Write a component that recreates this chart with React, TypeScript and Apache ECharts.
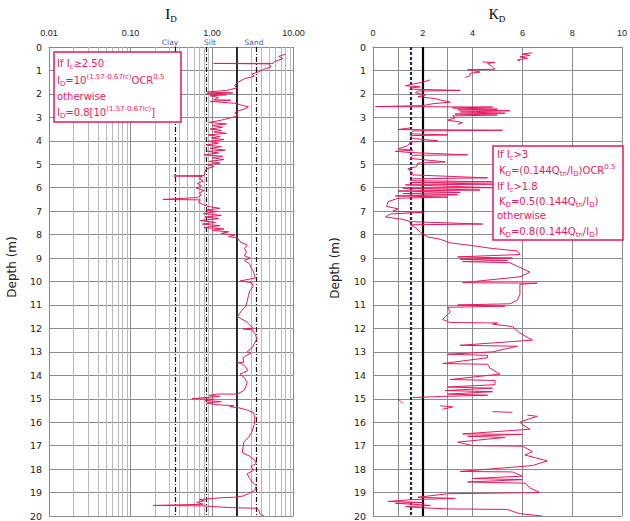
import React, { useEffect, useRef } from "react";
import * as echarts from "echarts";

// ---- Data (depth in m, value) ----
const idProfile: [number, number][] = [
  [0.30,8.0],[0.40,6.6],[0.50,7.4],[0.62,5.8],[0.70,5.6],[0.70,1.05],[0.72,5.0],[0.85,5.3],[0.95,4.3],[1.05,3.8],
  [1.15,3.1],[1.25,3.3],[1.35,2.5],[1.50,2.1],[1.62,1.9],[1.75,2.0],[1.85,1.5],[1.92,0.88],[1.96,1.8],[2.00,0.86],
  [2.04,1.5],[2.08,0.95],[2.15,1.2],[2.25,1.05],[2.27,1.7],[2.32,0.95],[2.40,1.9],[2.48,2.3],[2.55,2.8],[2.62,2.6],
  [2.70,2.2],[2.80,1.9],[2.92,2.1],[3.02,1.7],[3.12,1.3],[3.22,0.92],[3.28,1.5],[3.35,1.0],[3.42,1.35],[3.50,0.95],
  [3.55,1.3],[3.62,1.05],[3.68,1.5],[3.75,0.9],[3.82,1.25],[3.88,0.98],[3.95,1.4],[4.02,0.9],[4.10,1.2],[4.18,0.85],
  [4.25,1.3],[4.32,0.95],[4.40,1.45],[4.45,0.88],[4.52,1.2],[4.60,0.8],[4.66,1.35],[4.72,1.0],[4.80,1.4],[4.88,0.92],
  [4.95,1.25],[5.02,0.88],[5.10,1.05],[5.20,0.85],[5.35,0.82],[5.48,0.8],[5.50,0.34],[5.52,0.76],[5.62,0.70],[5.72,0.78],
  [5.82,0.66],[5.92,0.74],[6.02,0.64],[6.12,0.80],[6.22,0.70],[6.32,0.74],[6.42,0.66],[6.50,0.25],[6.52,0.72],[6.62,0.68],
  [6.72,0.78],[6.80,0.90],[6.88,1.25],[6.95,0.85],[7.02,1.15],[7.10,0.78],[7.18,1.3],[7.25,0.82],[7.32,1.2],[7.40,0.72],
  [7.48,1.1],[7.55,0.76],[7.62,1.25],[7.70,0.8],[7.76,1.4],[7.82,1.0],[7.88,1.6],[7.95,1.3],[8.02,1.9],[8.08,1.6],
  [8.15,2.05],[8.30,2.2],[8.45,2.7],[8.60,2.5],[8.75,2.65],[8.90,2.5],[9.00,2.95],[9.10,2.5],[9.25,2.9],[9.40,3.0],
  [9.55,3.2],[9.70,3.3],[9.85,3.4],[9.98,2.2],[10.05,3.1],[10.20,3.2],[10.40,2.9],[10.60,2.8],[10.85,2.7],[11.05,2.6],
  [11.25,2.3],[11.50,2.05],[11.70,2.6],[11.85,2.9],[12.00,3.2],[12.02,2.4],[12.06,3.1],[12.25,3.4],[12.45,3.55],[12.65,3.3],
  [12.80,3.15],[13.00,2.7],[13.05,3.0],[13.25,2.4],[13.45,2.45],[13.45,2.03],[13.50,2.3],[13.65,2.6],[13.80,2.75],[13.95,2.2],
  [14.10,2.5],[14.30,2.7],[14.50,2.6],[14.65,2.45],[14.80,2.05],[14.80,1.15],[14.86,0.92],[14.90,1.25],[14.95,0.82],[15.00,0.57],
  [15.02,1.05],[15.08,0.82],[15.12,1.3],[15.18,0.86],[15.25,1.1],[15.30,1.85],[15.34,1.65],[15.38,2.1],[15.48,2.7],[15.60,3.25],
  [15.85,3.35],[16.10,3.3],[16.40,3.1],[16.65,2.8],[16.85,2.45],[17.10,2.4],[17.30,2.35],[17.45,2.9],[17.60,3.3],[17.75,3.5],
  [17.90,3.0],[18.05,3.25],[18.20,2.7],[18.40,2.9],[18.55,3.1],[18.70,3.5],[18.90,3.35],[19.05,2.8],[19.15,2.4],[19.20,1.85],
  [19.22,1.3],[19.30,0.7],[19.35,0.8],[19.42,0.65],[19.50,0.78],[19.55,0.19],[19.57,0.8],[19.62,1.3],[19.65,2.0],[19.67,3.6],
  [19.80,3.8],[19.92,3.9],[20.00,4.3]
];

const kdProfile: [number, number | null][] = [
  [0.25,6.4],[0.30,6.0],[0.36,6.3],[0.42,5.9],[0.48,6.2],[0.55,5.8],[0.60,5.9],[0.62,null],
  [0.64,4.4],[0.66,4.9],[0.70,4.6],[0.85,4.8],[0.95,4.9],[0.97,3.8],[1.02,4.1],[1.07,4.3],[1.12,3.9],[1.22,3.9],[1.30,3.7],[1.35,null],
  [1.40,2.3],[1.50,2.0],[1.58,1.6],[1.65,1.3],[1.70,1.9],[1.75,1.5],[1.80,1.6],[1.85,3.5],[1.88,1.8],[1.95,1.7],
  [2.05,2.1],[2.12,1.8],[2.20,2.5],[2.26,2.7],[2.35,3.1],[2.42,2.4],[2.50,2.0],[2.54,0.1],[2.56,4.8],[2.60,3.2],
  [2.65,5.0],[2.68,3.4],[2.72,5.5],[2.77,3.5],[2.82,5.3],[2.86,3.3],[2.90,5.0],[2.94,3.2],[3.02,3.3],[3.12,3.0],
  [3.22,3.6],[3.30,3.4],[3.38,null],
  [3.45,1.5],[3.52,1.0],[3.55,5.2],[3.58,1.6],[3.70,1.5],[3.75,3.0],[3.78,1.5],[3.90,1.6],[4.00,2.6],[4.05,1.5],
  [4.20,1.4],[4.35,1.0],[4.40,1.6],[4.45,0.9],[4.50,1.5],[4.60,3.8],[4.62,1.6],[4.75,1.5],[4.90,2.9],[4.95,1.8],
  [5.10,1.75],[5.20,1.4],[5.37,1.6],[5.45,1.5],[5.58,4.6],[5.62,1.6],[5.70,1.5],[5.75,4.8],[5.78,1.5],[5.85,5.0],
  [5.88,1.3],[6.00,4.8],[6.02,1.2],[6.10,4.3],[6.14,1.0],[6.20,3.5],[6.25,1.2],[6.30,3.4],[6.35,0.9],[6.40,3.0],
  [6.45,1.0],[6.60,0.6],[6.80,0.55],[6.90,1.0],[7.00,0.8],[7.05,2.0],[7.12,0.7],[7.25,0.5],[7.35,1.2],[7.45,1.5],
  [7.55,4.4],[7.58,1.5],[7.70,1.7],[7.90,1.9],[8.10,2.2],[8.20,2.7],[8.35,3.1],[8.50,4.2],[8.58,4.7],[8.70,5.8],
  [8.85,5.9],[8.95,3.4],[9.00,5.6],[9.05,3.5],[9.10,5.4],[9.15,3.6],[9.20,5.5],[9.35,5.8],[9.60,6.3],[9.80,5.9],
  [10.05,3.6],[10.07,6.6],[10.12,5.9],[10.30,5.9],[10.55,5.9],[10.80,5.8],[10.95,5.5],[11.00,3.4],[11.05,5.3],[11.10,3.0],
  [11.30,3.1],[11.50,2.9],[11.62,2.8],[11.75,3.1],[11.77,5.0],[11.82,4.8],[11.92,5.6],[12.20,5.9],[12.50,6.4],[12.72,3.5],
  [12.76,5.8],[13.00,4.8],[13.10,3.0],[13.15,4.6],[13.25,4.6],[13.50,2.8],[13.53,4.6],[13.70,4.7],[13.95,5.1],[14.18,3.1],
  [14.22,4.9],[14.40,4.9],[14.50,3.0],[14.55,4.8],[14.65,2.9],[14.70,4.8],[14.80,3.0],[14.85,4.6],[14.90,2.8],[14.95,1.6],[14.97,null],
  [15.00,1.0],[15.10,1.1],[15.20,1.2],[15.22,null],
  [15.30,2.7],[15.35,3.2],[15.45,2.8],[15.50,null],
  [15.55,4.8],[15.58,5.6],[15.62,null],
  [15.70,6.2],[15.75,6.6],[15.85,6.3],[16.00,5.9],[16.10,6.0],[16.30,6.3],[16.50,3.6],[16.52,6.0],[16.60,3.8],[16.65,5.3],
  [16.85,3.4],[17.00,4.0],[17.02,6.0],[17.25,6.4],[17.40,6.1],[17.65,7.0],[17.85,6.4],[18.10,3.5],[18.12,5.6],[18.30,6.0],
  [18.40,4.0],[18.45,6.0],[18.55,3.8],[18.60,6.1],[18.80,6.3],[19.00,6.7],[19.05,3.0],[19.20,1.8],[19.25,3.3],[19.30,1.6],
  [19.38,0.6],[19.42,2.0],[19.46,0.9],[19.50,1.6],[19.55,2.3],[19.60,1.3],[19.65,2.0],[19.70,3.1],[19.72,5.4],[19.80,5.6],
  [19.90,5.9],[20.00,6.8]
];

const idMinorGrid = [0.02,0.03,0.04,0.05,0.06,0.07,0.08,0.09,0.2,0.3,0.4,0.5,0.6,0.7,0.8,0.9,2,3,4,5,6,7,8,9];
const idDashedBounds = [0.35, 0.85, 3.5];
const idSolidBound = 2.0;
const kdExtraGrid = [1, 3];
const kdDashedBound = 1.5;
const kdSolidBound = 2.0;
const soilLabels = ["Clay", "Silt", "Sand"];

const PINK = "#e6195f";
const SANS = "DejaVu Sans";

export default function App() {
  const ref = useRef<HTMLDivElement>(null);
  useEffect(() => {
    if (!ref.current) return;
    const chart = echarts.init(ref.current, undefined, { renderer: "svg" });

    const idData = idProfile.map(([d, v]) => [v, d]);
    const kdData = kdProfile.map(([d, v]) => (v == null ? ["-", "-"] : [v, d]));

    const yAxisBase = (gi: number) => ({
      gridIndex: gi,
      type: "value",
      inverse: true,
      min: 0,
      max: 20,
      interval: 1,
      axisLine: { show: true, lineStyle: { color: "#888", width: 1 } },
      axisTick: { show: false },
      axisLabel: { fontSize: 9.5, color: "#222", margin: 7, fontFamily: SANS },
      splitLine: { show: true, lineStyle: { color: "#8c8c8c", width: 1 } },
    });

    const rich = {
      n: { fontSize: 10, fontFamily: SANS, color: PINK, lineHeight: 14, verticalAlign: "middle" },
      s: { fontSize: 7, fontFamily: SANS, color: PINK, lineHeight: 7, verticalAlign: "bottom" },
      p: { fontSize: 7, fontFamily: SANS, color: PINK, lineHeight: 7, verticalAlign: "top" },
    };
    const boxText = (x: number, y: number, text: string) => ({
      type: "text",
      x,
      y,
      z: 100,
      style: { text, rich, verticalAlign: "middle", textVerticalAlign: "middle", align: "left", textAlign: "left", fill: PINK },
    });

    const soilX = [170, 210, 254];

    chart.setOption({
      animation: false,
      backgroundColor: "#ffffff",
      grid: [
        { left: 49, top: 47, width: 244.5, height: 470 },
        { left: 373, top: 47, width: 249.5, height: 470 },
      ],
      xAxis: [
        {
          gridIndex: 0,
          type: "log",
          logBase: 10,
          min: 0.01,
          max: 10,
          position: "top",
          axisLine: { show: true, lineStyle: { color: "#888" } },
          axisTick: { show: false },
          axisLabel: {
            formatter: (v: number) => Number(v).toFixed(2),
            fontSize: 9,
            color: "#222",
            margin: 10,
            fontFamily: "Liberation Sans",
          },
          splitLine: { show: true, lineStyle: { color: "#8c8c8c", width: 1 } },
        },
        {
          gridIndex: 1,
          type: "value",
          min: 0,
          max: 10,
          interval: 2,
          position: "top",
          axisLine: { show: true, lineStyle: { color: "#888" } },
          axisTick: { show: false },
          axisLabel: { fontSize: 9, color: "#222", margin: 10, fontFamily: "Liberation Sans" },
          splitLine: { show: true, lineStyle: { color: "#8c8c8c", width: 1 } },
        },
      ],
      yAxis: [yAxisBase(0), yAxisBase(1)],
      series: [
        {
          type: "line",
          xAxisIndex: 0,
          yAxisIndex: 0,
          data: [],
          silent: true,
          markLine: {
            silent: true,
            symbol: ["none", "none"],
            label: { show: false },
            animation: false,
            data: [
              ...idMinorGrid.map((v) => ({ xAxis: v, lineStyle: { color: "#b9b9b9", width: 1, type: "solid" } })),
              ...idDashedBounds.map((v) => ({ xAxis: v, lineStyle: { color: "#111", width: 1.2, type: [5, 2, 1, 2] } })),
              { xAxis: idSolidBound, lineStyle: { color: "#000", width: 1.6, type: "solid" } },
            ],
          },
        },
        {
          type: "line",
          xAxisIndex: 0,
          yAxisIndex: 0,
          z: 10,
          data: idData,
          showSymbol: false,
          symbol: "none",
          lineStyle: { color: PINK, width: 1 },
          silent: true,
        },
        {
          type: "line",
          xAxisIndex: 1,
          yAxisIndex: 1,
          data: [],
          silent: true,
          markLine: {
            silent: true,
            symbol: ["none", "none"],
            label: { show: false },
            animation: false,
            data: [
              ...kdExtraGrid.map((v) => ({ xAxis: v, lineStyle: { color: "#8c8c8c", width: 1, type: "solid" } })),
              { xAxis: kdDashedBound, lineStyle: { color: "#1c2a50", width: 2.2, type: [3, 2] } },
              { xAxis: kdSolidBound, lineStyle: { color: "#000", width: 2.2, type: "solid" } },
            ],
          },
        },
        {
          type: "line",
          xAxisIndex: 1,
          yAxisIndex: 1,
          z: 10,
          data: kdData,
          connectNulls: false,
          showSymbol: false,
          symbol: "none",
          lineStyle: { color: PINK, width: 1 },
          silent: true,
        },
      ],
      graphic: [
        // titles
        {
          type: "text",
          x: 171,
          y: 14,
          style: {
            text: "{m|I}{d|D}",
            rich: {
              m: { fontSize: 15, fontFamily: "Liberation Serif", color: "#222", lineHeight: 18 },
              d: { fontSize: 9, fontFamily: "Liberation Serif", color: "#222", lineHeight: 9, verticalAlign: "bottom" },
            },
            align: "center",
            textAlign: "center",
            verticalAlign: "middle",
            textVerticalAlign: "middle",
          },
        },
        {
          type: "text",
          x: 497,
          y: 14,
          style: {
            text: "{m|K}{d|D}",
            rich: {
              m: { fontSize: 14, fontFamily: "Liberation Serif", color: "#222", lineHeight: 18 },
              d: { fontSize: 9, fontFamily: "Liberation Serif", color: "#222", lineHeight: 9, verticalAlign: "bottom" },
            },
            align: "center",
            textAlign: "center",
            verticalAlign: "middle",
            textVerticalAlign: "middle",
          },
        },
        // axis names
        {
          type: "text",
          x: 12,
          y: 267,
          rotation: Math.PI / 2,
          style: {
            text: "Depth (m)",
            font: `12px "${SANS}"`,
            fill: "#222",
            align: "center",
            textAlign: "center",
            verticalAlign: "middle",
            textVerticalAlign: "middle",
          },
        },
        {
          type: "text",
          x: 335,
          y: 268,
          rotation: Math.PI / 2,
          style: {
            text: "Depth (m)",
            font: `12px "${SANS}"`,
            fill: "#222",
            align: "center",
            textAlign: "center",
            verticalAlign: "middle",
            textVerticalAlign: "middle",
          },
        },
        // soil labels
        ...soilLabels.map((t, i) => ({
          type: "text",
          x: soilX[i],
          y: 42.5,
          style: {
            text: t,
            font: `7.5px "${SANS}"`,
            fill: "#4a5aa8",
            align: "center",
            textAlign: "center",
            verticalAlign: "middle",
            textVerticalAlign: "middle",
          },
        })),
        // left formula box
        {
          type: "rect",
          z: 99,
          shape: { x: 54, y: 52, width: 127, height: 70 },
          style: { fill: "#fff", stroke: PINK, lineWidth: 1.5 },
        },
        boxText(57, 63, "{n|If I}{s|c}{n|≥2.50}"),
        boxText(57, 80, "{n|I}{s|D}{n|=10}{p|(1.57-0.67Ic)}{n|OCR}{p|0.5}"),
        boxText(57, 96, "{n|otherwise}"),
        boxText(57, 112, "{n|I}{s|D}{n|=0.8[10}{p|(1.57-0.67Ic)}{n|]}"),
        // right formula box
        {
          type: "rect",
          z: 99,
          shape: { x: 493, y: 146, width: 130, height: 94 },
          style: { fill: "#fff", stroke: PINK, lineWidth: 1.5 },
        },
        boxText(497, 154, "{n|If I}{s|c}{n|>3}"),
        boxText(499, 170, "{n|K}{s|D}{n|=(0.144Q}{s|tn}{n|/I}{s|D}{n|)OCR}{p|0.5}"),
        boxText(497, 186, "{n|If I}{s|c}{n|>1.8}"),
        boxText(499, 201, "{n|K}{s|D}{n|=0.5(0.144Q}{s|tn}{n|/I}{s|D}{n|)}"),
        boxText(497, 215, "{n|otherwise}"),
        boxText(499, 231, "{n|K}{s|D}{n|=0.8(0.144Q}{s|tn}{n|/I}{s|D}{n|)}"),
      ],
    });

    return () => chart.dispose();
  }, []);

  return (
    <div
      ref={ref}
      style={{ position: "absolute", left: 0, top: 0, width: 630, height: 521, background: "#fff" }}
    />
  );
}
